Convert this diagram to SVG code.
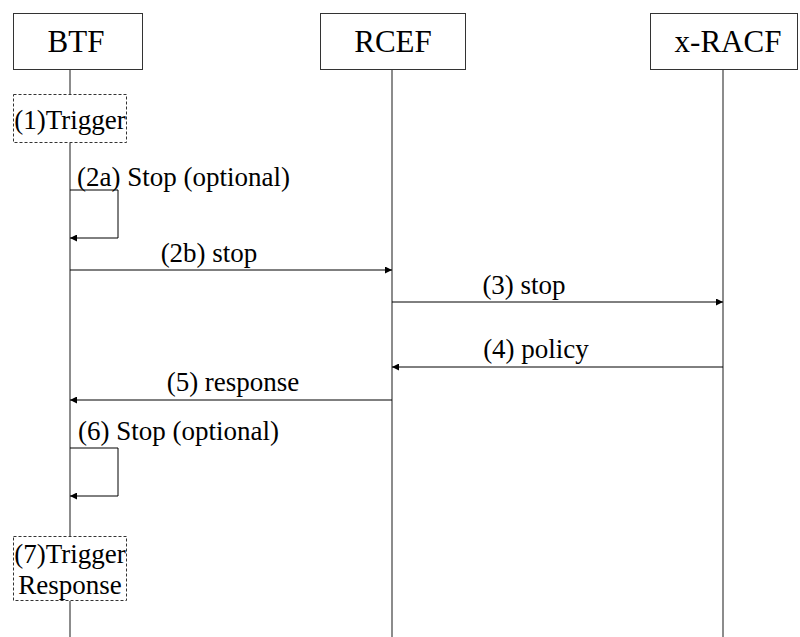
<svg xmlns="http://www.w3.org/2000/svg" width="800" height="637" viewBox="0 0 800 637">
<style>
.box{fill:#fff;stroke:#333;stroke-width:1}
.dbox{fill:#fff;stroke:#333;stroke-width:1;stroke-dasharray:3,2}
.life{stroke:#666;stroke-width:1.5;fill:none}
.msg{stroke:#000;stroke-width:1;fill:none;marker-end:url(#ah)}
.hd{font-size:31px;text-anchor:middle;fill:#000}
.lb{font-size:27px;fill:#000}
.c{text-anchor:middle}
</style>
<defs>
<marker id="ah" viewBox="0 0 10 10" refX="10" refY="5" markerWidth="9" markerHeight="7" markerUnits="userSpaceOnUse" orient="auto">
<path d="M0,0 L10,5 L0,10 z" fill="#000"/>
</marker>
</defs>
<rect width="800" height="637" fill="#fff"/>
<g id="lifelines">
<line class="life" x1="70" y1="69" x2="70" y2="94"/>
<line class="life" x1="70" y1="143" x2="70" y2="536"/>
<line class="life" x1="70" y1="601" x2="70" y2="637"/>
<line class="life" x1="392" y1="69" x2="392" y2="637"/>
<line class="life" x1="723" y1="69" x2="723" y2="637"/>
</g>
<g font-family="'Liberation Serif', 'Times New Roman', serif">
<g id="BTF"><rect class="box" x="13.5" y="13.5" width="129" height="56"/><text class="hd" x="76" y="52">BTF</text></g>
<g id="RCEF"><rect class="box" x="320.5" y="13.5" width="145" height="56"/><text class="hd" x="393" y="52">RCEF</text></g>
<g id="xRACF"><rect class="box" x="650.5" y="13.5" width="147" height="56"/><text class="hd" x="728" y="52">x-RACF</text></g>
<g id="trigger1"><rect class="dbox" x="13.5" y="94.5" width="113" height="48"/><text class="lb c" x="70" y="129">(1)Trigger</text></g>
<g id="trigger7"><rect class="dbox" x="13.5" y="536.5" width="113" height="64"/><text class="lb c" x="70" y="563">(7)Trigger</text><text class="lb c" x="70" y="594">Response</text></g>
<g id="connectors">
<path class="msg" d="M70,190 H118 V238 H70"/>
<text class="lb" x="77" y="186">(2a) Stop (optional)</text>
<line class="msg" x1="70" y1="270" x2="392" y2="270"/>
<text class="lb c" x="209" y="262">(2b) stop</text>
<line class="msg" x1="392" y1="302" x2="723" y2="302"/>
<text class="lb c" x="524" y="294">(3) stop</text>
<line class="msg" x1="723" y1="367" x2="392" y2="367"/>
<text class="lb c" x="536" y="358">(4) policy</text>
<line class="msg" x1="392" y1="400" x2="70" y2="400"/>
<text class="lb c" x="233" y="391">(5) response</text>
<path class="msg" d="M70,448 H118 V496 H70"/>
<text class="lb" x="78" y="440">(6) Stop (optional)</text>
</g>
</g>
</svg>
